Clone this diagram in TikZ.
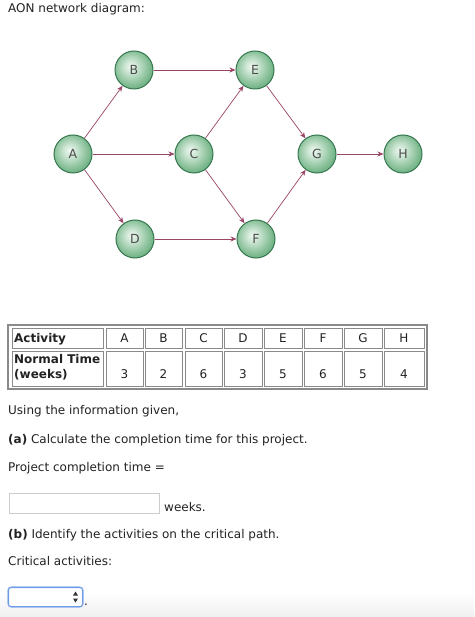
\documentclass[tikz,border=0pt]{standalone}
\usepackage{fontspec}
\setmainfont{DejaVu Sans}
\usetikzlibrary{arrows.meta,shapes.geometric}
\definecolor{arrowc}{HTML}{9A4466}
\definecolor{ballout}{HTML}{3A8558}
\definecolor{ballmid}{HTML}{7DBA8F}
\definecolor{ballin}{HTML}{EEF8F0}
\definecolor{ballrim}{HTML}{36784F}
\definecolor{txt}{HTML}{222222}
\definecolor{cellb}{HTML}{8A8A8A}
\definecolor{selblue}{HTML}{6D9BE6}
\pgfdeclareradialshading{ballshade}{\pgfpoint{-5bp}{5bp}}{color(0bp)=(ballin); color(8bp)=(ballin!70!ballmid); color(24bp)=(ballmid); color(44bp)=(ballout); color(60bp)=(ballout)}
\tikzset{
  ball/.style={circle, minimum size=38pt, inner sep=0pt, draw=ballrim, line width=1pt,
    shading=ballshade, font=\fontsize{12.5}{14}\selectfont, text=black!70},
  link/.style={draw=arrowc, line width=0.7pt, -{Stealth[length=6pt,width=5pt]}},
  txtline/.style={anchor=base west, inner sep=0pt, font=\fontsize{12}{14}\selectfont, text=txt},
  boldline/.style={txtline, font=\fontsize{12}{14}\selectfont\bfseries},
  cell/.style={draw=cellb, line width=0.8pt},
  celltxt/.style={anchor=base, inner sep=0pt, font=\fontsize{12}{14}\selectfont, text=txt}
}
\begin{document}
\begin{tikzpicture}[x=1pt,y=-1pt]
\useasboundingbox (0,0) rectangle (474,617);
\fill[white] (0,0) rectangle (474,617);
\shade[top color=white, bottom color=black!6] (0,592) rectangle (474,617);

\node[txtline] (title) at (8,12.5) {AON network diagram:};

% network
\node[ball] (A) at (73,154) {A};
\node[ball] (B) at (134,70) {B};
\node[ball] (C) at (194,154) {C};
\node[ball] (D) at (135,239) {D};
\node[ball] (E) at (255,70) {E};
\node[ball] (F) at (256,239) {F};
\node[ball] (G) at (317,154) {G};
\node[ball] (H) at (403,154) {H};
\draw[link] (A) -- (B);
\draw[link] (A) -- (C);
\draw[link] (A) -- (D);
\draw[link] (B) -- (E);
\draw[link] (C) -- (E);
\draw[link] (C) -- (F);
\draw[link] (D) -- (F);
\draw[link] (E) -- (G);
\draw[link] (F) -- (G);
\draw[link] (G) -- (H);

% table
\draw[draw=cellb, line width=1.2pt] (8,325) rectangle (427,389);
\draw[cell] (12,328) rectangle (103,348);
\draw[cell] (12,351) rectangle (103,386);
\node[boldline] (act) at (14,342.5) {Activity};
\node[boldline] (nt1) at (14,363) {Normal Time};
\node[boldline] (nt2) at (14,378) {(weeks)};
\foreach \l/\v/\xa/\xb in {A/3/106/143, B/2/145/182, C/6/185/222, D/3/224/262, E/5/264/302, F/6/304/342, G/5/344/382, H/4/384/424}{
  \draw[cell] (\xa,328) rectangle (\xb,348);
  \draw[cell] (\xa,351) rectangle (\xb,386);
  \node[celltxt] (h\l) at ({(\xa+\xb)/2},342.5) {\l};
  \node[celltxt] (v\l) at ({(\xa+\xb)/2},378) {\v};
}

% questions
\node[txtline] (q0) at (8,414) {Using the information given,};
\node[txtline] (qa) at (8,443) {\textbf{(a)} Calculate the completion time for this project.};
\node[txtline] (pc) at (8,471) {Project completion time =};
\draw[draw=black!20, fill=white, line width=0.8pt] (9,493) rectangle (159,513);
\node[txtline] (wk) at (164,511) {weeks.};
\node[txtline] (qb) at (8,538) {\textbf{(b)} Identify the activities on the critical path.};
\node[txtline] (ca) at (8,565) {Critical activities:};
\draw[draw=selblue!50, line width=2.6pt, rounded corners=3pt] (8.5,587.5) rectangle (82.5,606.5);
\draw[draw=selblue, fill=white, line width=1pt, rounded corners=2.5pt] (8.5,587.5) rectangle (82.5,606.5);
\fill[black!80] (73,595.5) -- (78,595.5) -- (75.5,591.5) -- cycle;
\fill[black!80] (73,598.5) -- (78,598.5) -- (75.5,602.5) -- cycle;
\node[txtline] (dot) at (84,605) {.};
\end{tikzpicture}
\end{document}
